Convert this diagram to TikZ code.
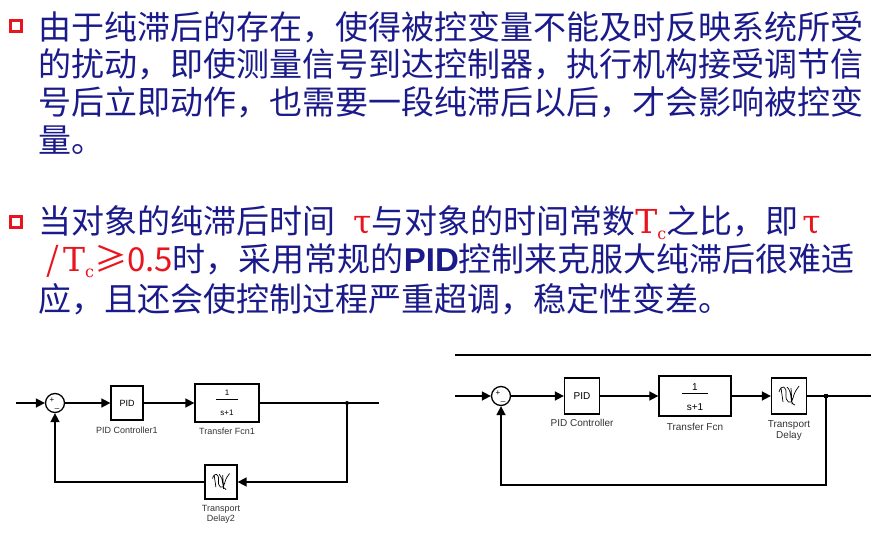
\documentclass[tikz,border=0pt]{standalone}
\usepackage{fontspec}
\setmainfont{Liberation Sans}
\newfontfamily\cjk{Noto Sans CJK SC}
\newfontfamily\serifr{DejaVu Serif}
\usetikzlibrary{arrows.meta}
\definecolor{navy}{HTML}{1A1A8A}
\definecolor{redt}{HTML}{E8141E}
\begin{document}
\begin{tikzpicture}[x=1pt,y=-1pt,
  txt/.style={anchor=west,inner sep=0,text=navy,font=\fontsize{33}{33}\selectfont\cjk},
  bul/.style={draw=redt,line width=2.4pt,minimum size=11pt,inner sep=0},
  blk/.style={draw,line width=1.3pt,inner sep=0},
  lab/.style={font=\fontsize{9}{10}\selectfont,inner sep=0,align=center,text=black!80},
  sig/.style={line width=1.6pt,-{Triangle[length=9pt,width=9pt]}},
  wire/.style={line width=1.6pt},
  sumc/.style={draw,circle,line width=1.3pt,minimum size=19pt,inner sep=0}]
\useasboundingbox (0,0) rectangle (890,535);
% text
\node[bul] (b1) at (16,26) {};
\node[txt] (l1) at (38,27) {由于纯滞后的存在，使得被控变量不能及时反映系统所受};
\node[txt] (l2) at (38,64) {的扰动，即使测量信号到达控制器，执行机构接受调节信};
\node[txt] (l3) at (38,102) {号后立即动作，也需要一段纯滞后以后，才会影响被控变};
\node[txt] (l4) at (38,140) {量。};
\node[bul] (b2) at (16,222) {};
\node[txt] (m1) at (38,223) {当对象的纯滞后时间\hspace{18pt}\textcolor{redt}{\serifr τ}与对象的时间常数\textcolor{redt}{\serifr T\raisebox{-6pt}{\fontsize{16}{16}\selectfont c}}之比，即\hspace{4pt}\textcolor{redt}{\serifr τ}};
\node[txt] (m2) at (38,261) {\textcolor{redt}{\hspace{8pt}/\hspace{4pt}{\serifr T\raisebox{-6pt}{\fontsize{16}{16}\selectfont c}}≥0.5}时，采用常规的{\fontspec{Liberation Sans}\bfseries PID}控制来克服大纯滞后很难适};
\node[txt] (m3) at (38,299) {应，且还会使控制过程严重超调，稳定性变差。};
% left diagram
\coordinate (li) at (16,403);
\node[sumc] (s1) at (55,403) {};
\node[font=\fontsize{8}{8}\selectfont,inner sep=0] (s1p) at (52,400) {+};
\node[font=\fontsize{8}{8}\selectfont,inner sep=0] (s1m) at (57,408) {\_};
\node[blk,minimum width=32pt,minimum height=34pt] (pid1) at (127,403) {\fontsize{9}{9}\selectfont PID};
\node[blk,minimum width=64pt,minimum height=38pt] (tf1) at (227,403) {};
\node[inner sep=0,font=\fontsize{8}{8}\selectfont] (tf1n) at (227,393) {1};
\node[inner sep=0,font=\fontsize{8}{8}\selectfont] (tf1d) at (227,413) {s+1};
\draw[line width=0.8pt] (tf1n.south)++(-11,3) coordinate (f1a) -- ++(22,0) coordinate (f1b);
\coordinate (j1) at (347,403);
\coordinate (o1) at (379,403);
\coordinate (c1) at (347,482);
\node[blk,minimum width=32pt,minimum height=34pt] (d1) at (221,482) {};
\coordinate (e1) at (55,482);
\draw[sig] (li) -- (s1);
\draw[sig] (s1) -- (pid1);
\draw[sig] (pid1) -- (tf1);
\draw[wire] (tf1) -- (o1);
\fill (j1) circle (2);
\draw[sig] (j1) -- (c1) -- (d1);
\draw[sig] (d1) -- (e1) -- (s1);
\node[lab] (lp1) at (127,430) {PID Controller1};
\node[lab] (lt1) at (227,431) {Transfer Fcn1};
\node[lab] (ld1) at (221,514) {Transport\\Delay2};
% right diagram
\coordinate (t0) at (455,355);
\coordinate (t1) at (871,355);
\draw[line width=1.6pt] (t0) -- (t1);
\coordinate (ri) at (455,396);
\node[sumc] (s2) at (501,396) {};
\node[font=\fontsize{8}{8}\selectfont,inner sep=0] (s2p) at (498,393) {+};
\node[font=\fontsize{8}{8}\selectfont,inner sep=0] (s2m) at (503,401) {\_};
\node[blk,minimum width=35pt,minimum height=36pt] (pid2) at (582,396) {\fontsize{10}{10}\selectfont PID};
\node[blk,minimum width=72pt,minimum height=40pt] (tf2) at (695,396) {};
\node[inner sep=0,font=\fontsize{10}{10}\selectfont] (tf2n) at (695,387) {1};
\node[inner sep=0,font=\fontsize{10}{10}\selectfont] (tf2d) at (695,407) {s+1};
\draw[line width=0.8pt] (tf2n.south)++(-13,3) -- ++(26,0);
\node[blk,minimum width=35pt,minimum height=36pt] (d2) at (789,396) {};
\coordinate (j2) at (826,396);
\coordinate (o2) at (871,396);
\coordinate (c2) at (826,485);
\coordinate (e2) at (501,485);
\draw[sig] (ri) -- (s2);
\draw[sig] (s2) -- (pid2);
\draw[sig] (pid2) -- (tf2);
\draw[sig] (tf2) -- (d2);
\draw[wire] (d2) -- (o2);
\fill (j2) ++(-2,-2) rectangle ++(4,4);
\draw[sig] (j2) -- (c2) -- (e2) -- (s2);
\node[lab,font=\fontsize{10}{11}\selectfont] (lp2) at (582,423) {PID Controller};
\node[lab,font=\fontsize{10}{11}\selectfont] (lt2) at (695,427) {Transfer Fcn};
\node[lab,font=\fontsize{10}{11}\selectfont] (ld2) at (789,431) {Transport\\Delay};
% delay icons
\foreach \b/\s in {d1/0.85,d2/1}{
  \draw[line width=0.7pt,shift={(\b)},scale=\s]
    (-10,-4) .. controls (-8,-12) and (-2,-10) .. (-3,-2) .. controls (-4,6) and (2,10) .. (4,2)
    .. controls (6,-6) and (9,-8) .. (10,-10)
    (-8,-8) -- (-6,6) (-2,-9) .. controls (4,-4) and (0,8) .. (6,9) (2,-8) -- (3,8);
}
\end{tikzpicture}
\end{document}
